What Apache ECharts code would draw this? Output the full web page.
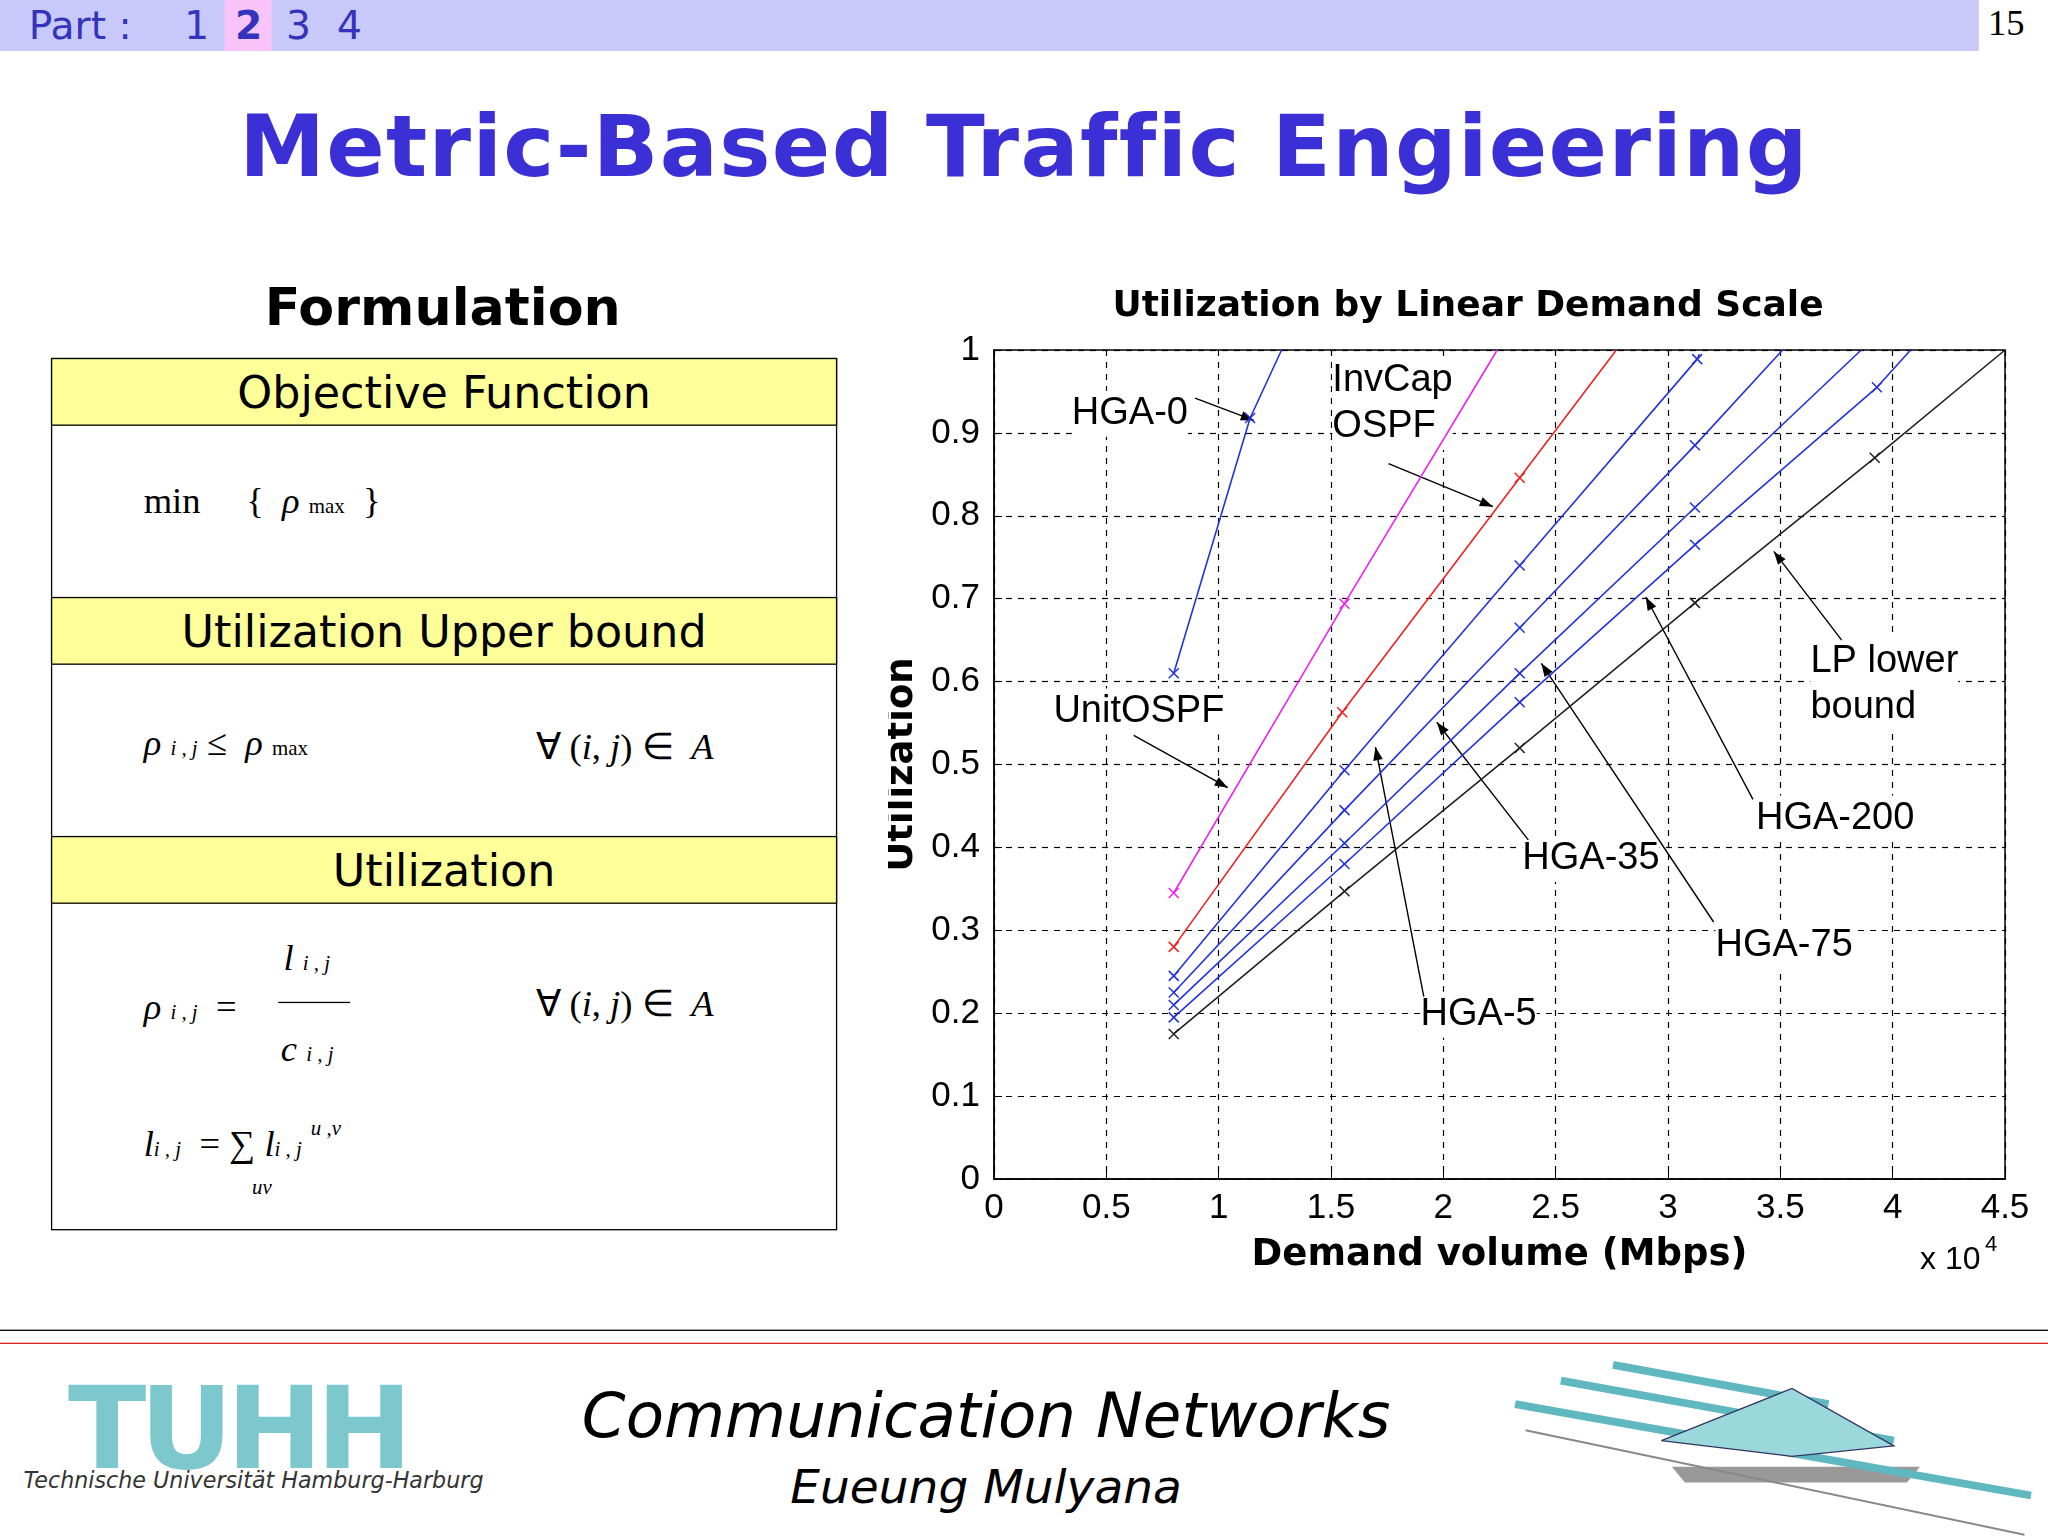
<!DOCTYPE html>
<html><head><meta charset="utf-8">
<script src="https://cdn.jsdelivr.net/npm/echarts@6/dist/echarts.min.js"></script>
<style>
body{margin:0;width:2048px;height:1536px;background:#fff;overflow:hidden;font-family:"DejaVu Sans",sans-serif}
#w{position:absolute;left:0;top:0;width:1568px;height:1176px;transform:scale(1.30612);transform-origin:0 0}
.abs{position:absolute}
.yel{position:absolute;left:39px;width:600px;background:#ffff99;border:1.5px solid #000;text-align:center;font-size:34px;font-family:"DejaVu Sans";line-height:50px}
.m{font-family:"Liberation Serif",serif;font-size:28px;position:absolute}
.i{font-style:italic}
.s{font-size:16px}
.pn{position:absolute;top:0;font-size:30px;color:#3333bb;line-height:39px}
#chart{position:absolute;left:888px;top:274px;width:1160px;height:1032px}
</style></head><body>
<div id="w">
 <div class="abs" style="left:0;top:0;width:1515px;height:39px;background:#c8c8fa"></div>
 <div class="abs" style="left:172px;top:0;width:36px;height:39px;background:#f8c4f8"></div>
 <div class="pn" style="left:22px">Part :</div>
 <div class="pn" style="left:141px">1</div>
 <div class="pn" style="left:180px;font-weight:bold">2</div>
 <div class="pn" style="left:219px">3</div>
 <div class="pn" style="left:258px">4</div>
 <div class="abs" style="left:1522px;top:2px;font-size:28px;font-family:'Liberation Serif'">15</div>
 <div class="abs" style="left:0;width:1568px;top:74px;text-align:center;font-size:66px;font-weight:bold;color:#3b2fd6;letter-spacing:1px">Metric-Based Traffic Engieering</div>
 <div class="abs" style="left:39px;width:600px;top:212px;text-align:center;font-size:40px;font-weight:bold">Formulation</div>
 <div class="abs" style="left:39px;top:274px;width:600px;height:666px;border:1.5px solid #000"></div>
 <div class="yel" style="top:274px">Objective Function</div>
 <div class="yel" style="top:457px">Utilization Upper bound</div>
 <div class="yel" style="top:640px">Utilization</div>
 <div class="m" style="left:110px;top:368px">min &nbsp;&nbsp;&nbsp; { &nbsp;<span class="i">ρ</span> <span class="s">max</span> &nbsp;}</div>
 <div class="m" style="left:110px;top:553px"><span class="i">ρ</span> <span class="s i">i , j</span> ≤ &nbsp;<span class="i">ρ</span> <span class="s">max</span></div>
 <div class="m" style="left:410px;top:555px">∀ (<span class="i">i</span>, <span class="i">j</span>) ∈ &nbsp;<span class="i">A</span></div>
 <div class="m" style="left:110px;top:755px"><span class="i">ρ</span> <span class="s i">i , j</span> &nbsp;=</div>
 <div class="m" style="left:217px;top:718px"><span class="i">l</span> <span class="s i">i , j</span></div>
 <div class="abs" style="left:213px;top:767px;width:55px;border-top:1.5px solid #000"></div>
 <div class="m" style="left:215px;top:787px"><span class="i">c</span> <span class="s i">i , j</span></div>
 <div class="m" style="left:410px;top:752px">∀ (<span class="i">i</span>, <span class="i">j</span>) ∈ &nbsp;<span class="i">A</span></div>
 <div class="m" style="left:110px;top:860px"><span class="i">l</span><span class="s i">i , j</span> &nbsp;= ∑ <span class="i">l</span><span class="s i">i , j</span></div>
 <div class="m s i" style="left:238px;top:855px">u ,v</div>
 <div class="m i s" style="left:193px;top:900px">uv</div>
 <div class="abs" style="left:0;top:1018px;width:1568px;border-top:1.5px solid #000"></div>
 <div class="abs" style="left:0;top:1028px;width:1568px;border-top:1.5px solid #d22"></div>
 <div class="abs" style="left:52px;top:1042px;font-size:88px;font-weight:bold;color:#7cc8cc;letter-spacing:-5px">TUHH</div>
 <div class="abs" style="left:18px;top:1123px;font-size:17px;font-style:italic;color:#333">Technische Universität Hamburg-Harburg</div>
 <div class="abs" style="left:0;width:1510px;top:1055px;text-align:center;font-size:48px;font-style:italic">Communication Networks</div>
 <div class="abs" style="left:0;width:1510px;top:1118px;text-align:center;font-size:36px;font-style:italic">Eueung Mulyana</div>
 <svg class="abs" style="left:1150px;top:1035px" width="418" height="141">
  <polygon points="130,88 320,88 310,100 140,100" fill="#999"/>
  <g stroke="#5fb8c0" stroke-width="6"><line x1="10" y1="40" x2="405" y2="110"/><line x1="45" y1="22" x2="300" y2="68"/><line x1="85" y1="10" x2="250" y2="40"/></g>
  <polygon points="122,68 222,28 300,72 222,80" fill="#9ad8dc" stroke="#336" stroke-width="1"/>
  <line x1="18" y1="60" x2="400" y2="140" stroke="#888" stroke-width="1.5"/>
 </svg>
</div>
<div id="chart"></div>
<script>
const seriesNames=['HGA-0','UnitOSPF','InvCap OSPF','HGA-5','HGA-35','HGA-75','HGA-200','LP lower bound'];
const seriesColors=['#2233dd','#ee22ee','#ee2222','#2233dd','#2233dd','#2233dd','#2233dd','#222222'];
const xHGA0=[8000,11400,12800];      const yHGA0=[0.61,0.918,1.0];
const xUnit=[8000,15600,22400];      const yUnit=[0.345,0.694,1.0];
const xInv=[8000,15500,23400,27700]; const yInv=[0.28,0.563,0.846,1.0];
const xHGA5=[8000,15600,23400,31300,31400];const yHGA5=[0.245,0.493,0.74,0.989,0.995];
const xHGA35=[8000,15600,23400,31200,35100];const yHGA35=[0.225,0.445,0.665,0.885,1.0];
const xHGA75=[8000,15600,23400,31200,38600];const yHGA75=[0.21,0.405,0.61,0.81,1.0];
const xHGA200=[8000,15600,23400,31200,39300,40800];const yHGA200=[0.195,0.38,0.575,0.765,0.955,1.0];
const xLP=[8000,15600,23400,31200,39200,45000];const yLP=[0.175,0.347,0.52,0.695,0.87,1.0];
const xs=[xHGA0,xUnit,xInv,xHGA5,xHGA35,xHGA75,xHGA200,xLP];
const ys=[yHGA0,yUnit,yInv,yHGA5,yHGA35,yHGA75,yHGA200,yLP];
const xTicks=['0','0.5','1','1.5','2','2.5','3','3.5','4','4.5'];
const notes=[
 ['HGA-0',[6050,0.923],'center',[8950,0.942],[11570,0.915]],
 ['InvCap\nOSPF',[15060,0.935],'left',[17560,0.863],[22210,0.811]],
 ['UnitOSPF',[6450,0.564],'center',[6220,0.535],[10410,0.472]],
 ['LP lower\nbound',[36340,0.597],'left',[37730,0.650],[34710,0.757]],
 ['HGA-200',[37440,0.435],'center',[33780,0.458],[29010,0.702]],
 ['HGA-35',[26570,0.386],'center',[23780,0.409],[19710,0.551]],
 ['HGA-75',[35170,0.282],'center',[32030,0.310],[24360,0.622]],
 ['HGA-5',[21570,0.198],'center',[19130,0.220],[16980,0.521]]
];
const chart=echarts.init(document.getElementById('chart'));
const X='path://M0,0L10,10M10,0L0,10';
chart.setOption({
 animation:false,
 title:{text:'Utilization by Linear Demand Scale',left:'center',top:10,textStyle:{fontSize:36,fontWeight:'bold',fontFamily:'DejaVu Sans',color:'#000'}},
 grid:{left:106,right:43,top:76,bottom:127,outerBoundsMode:'none',containLabel:false},
 xAxis:{type:'value',min:0,max:45000,interval:5000,
  name:'Demand volume (Mbps)',nameLocation:'middle',nameGap:58,nameTextStyle:{fontSize:37,fontWeight:'bold',fontFamily:'DejaVu Sans',color:'#000'},
  axisLine:{lineStyle:{color:'#000',width:1.5}},axisTick:{inside:true,length:8,lineStyle:{color:'#000'}},
  axisLabel:{fontSize:35,color:'#000',margin:12,fontFamily:'Liberation Sans',formatter:v=>xTicks[Math.round(v/5000)]},
  splitLine:{lineStyle:{type:[6,6],color:'#000',width:1.2}}},
 yAxis:{type:'value',min:0,max:1,interval:0.1,
  name:'Utilization',nameLocation:'middle',nameGap:68,nameTextStyle:{fontSize:37,fontWeight:'bold',fontFamily:'DejaVu Sans',color:'#000'},
  axisLine:{lineStyle:{color:'#000',width:1.5}},axisTick:{inside:true,length:8,lineStyle:{color:'#000'}},
  axisLabel:{fontSize:35,color:'#000',margin:14,fontFamily:'Liberation Sans',formatter:v=>String(+v.toFixed(1))},
  splitLine:{lineStyle:{type:[6,6],color:'#000',width:1.2}}},
 series:seriesNames.map((n,i)=>({name:n,type:'line',
  data:xs[i].map((x,j)=>j===xs[i].length-1?{value:[x,ys[i][j]],symbol:'none'}:[x,ys[i][j]]),
  lineStyle:{color:seriesColors[i],width:1.6},
  symbol:X,symbolSize:10,
  itemStyle:{color:'none',borderColor:seriesColors[i],borderWidth:1.5},
  showAllSymbol:true}))
});
function annotate(){
 const g=[];
 const gr=chart.getModel().getComponent('grid').coordinateSystem.getRect();
 g.push({type:'rect',shape:{x:gr.x,y:gr.y,width:gr.width,height:gr.height},style:{fill:'none',stroke:'#000',lineWidth:1.5},silent:true});
 g.push({type:'text',left:gr.x+gr.width-85,top:gr.y+gr.height+65,style:{text:'x 10',fontSize:32,fill:'#000',fontFamily:'Liberation Sans'}});
 g.push({type:'text',left:gr.x+gr.width-20,top:gr.y+gr.height+55,style:{text:'4',fontSize:22,fill:'#000',fontFamily:'Liberation Sans'}});
 notes.forEach(n=>{
  const p=chart.convertToPixel({gridIndex:0},n[1]);
  const a=chart.convertToPixel({gridIndex:0},n[3]);
  const b=chart.convertToPixel({gridIndex:0},n[4]);
  g.push({type:'text',x:p[0],y:p[1],style:{text:n[0],fontSize:38,fill:'#000',fontFamily:'Liberation Sans',align:n[2],verticalAlign:'middle',lineHeight:46,backgroundColor:'#fff'}});
  g.push({type:'line',shape:{x1:a[0],y1:a[1],x2:b[0],y2:b[1]},style:{stroke:'#000',lineWidth:1.4}});
  const ang=Math.atan2(b[1]-a[1],b[0]-a[0]),L=14,W=0.35;
  g.push({type:'polygon',shape:{points:[[b[0],b[1]],[b[0]-L*Math.cos(ang-W),b[1]-L*Math.sin(ang-W)],[b[0]-L*Math.cos(ang+W),b[1]-L*Math.sin(ang+W)]]},style:{fill:'#000'}});
 });
 chart.setOption({graphic:g});
}
annotate();
</script>
</body></html>
